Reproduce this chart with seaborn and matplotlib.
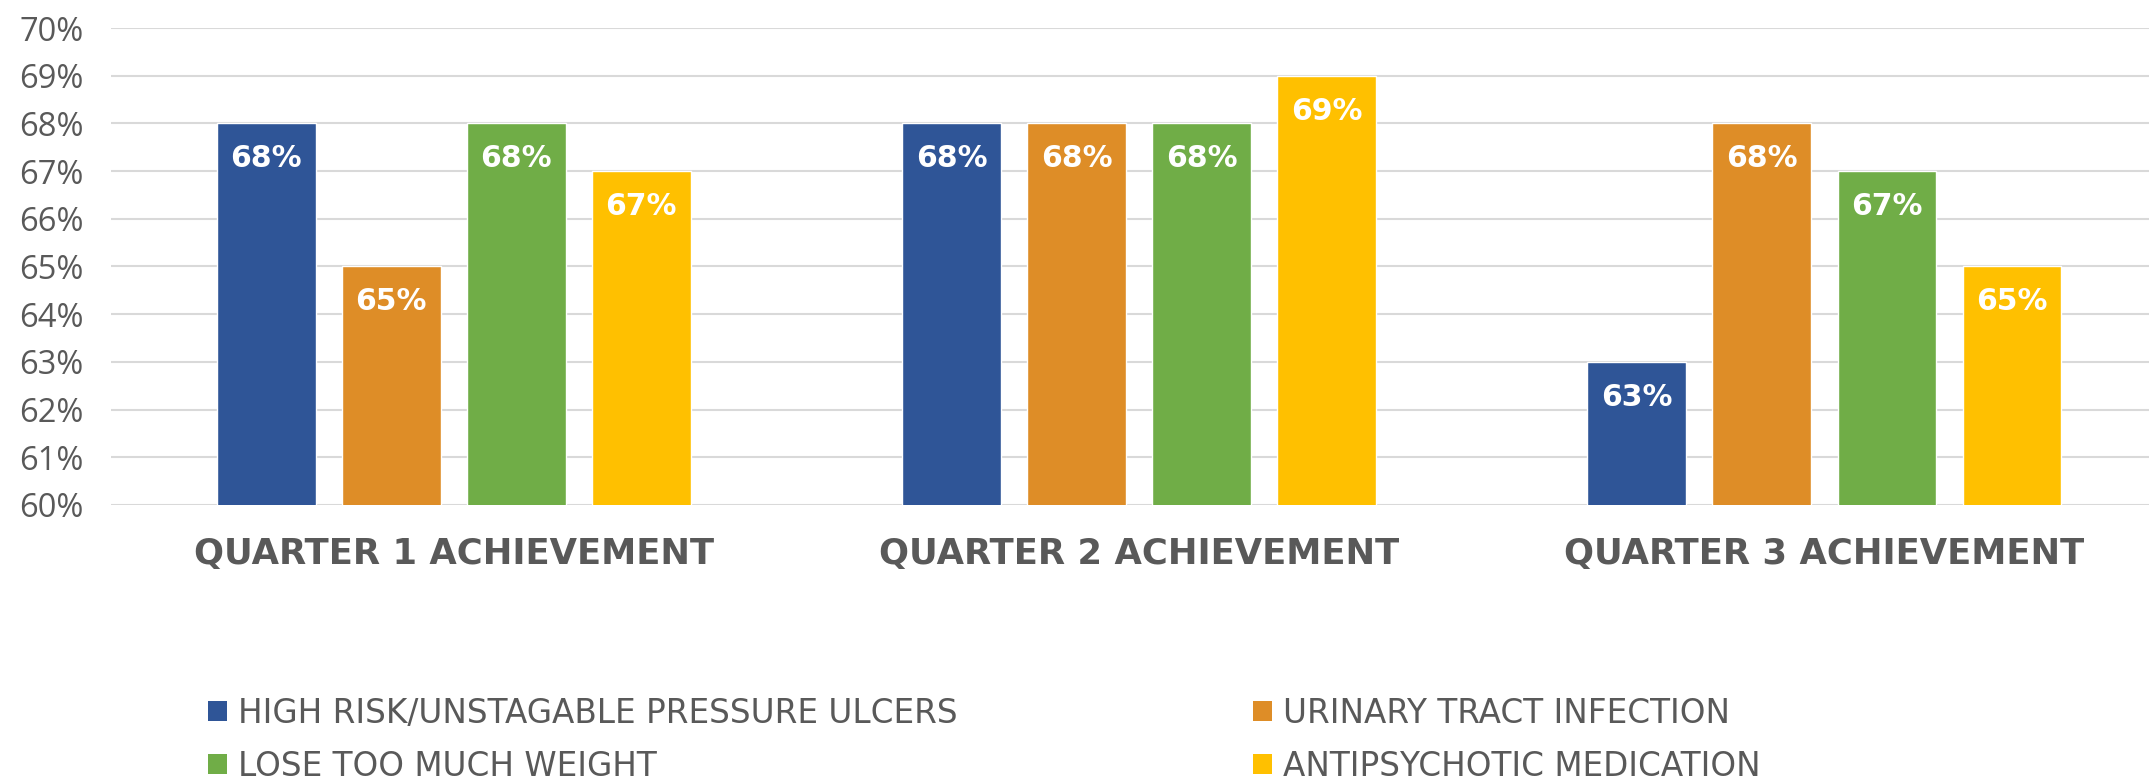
import matplotlib
matplotlib.use("Agg")
import matplotlib.pyplot as plt
from matplotlib.patches import Patch
import seaborn as sns
import pandas as pd

quarters = ["QUARTER 1 ACHIEVEMENT", "QUARTER 2 ACHIEVEMENT", "QUARTER 3 ACHIEVEMENT"]
measures = ["HIGH RISK/UNSTAGABLE PRESSURE ULCERS", "URINARY TRACT INFECTION",
            "LOSE TOO MUCH WEIGHT", "ANTIPSYCHOTIC MEDICATION"]
pressure_ulcers = [68, 68, 63]
urinary_tract = [65, 68, 68]
lose_weight = [68, 68, 67]
antipsychotic = [67, 69, 65]
colors = ["#2F5597", "#DE8D27", "#70AD47", "#FFC000"]
yticks = list(range(60, 71))

series = [pressure_ulcers, urinary_tract, lose_weight, antipsychotic]
rows = []
for m, vals in zip(measures, series):
    for q, v in zip(quarters, vals):
        rows.append({"quarter": q, "measure": m, "value": v})
df = pd.DataFrame(rows)

sns.set_style("white")
plt.rcParams["font.family"] = ["Open Sans", "DejaVu Sans"]
text_color = "#595959"

fig = plt.figure(figsize=(21.49, 7.8), dpi=100)
ax = fig.add_axes([0.0517, 0.3526, 0.9567, 0.6115])

sns.barplot(data=df, x="quarter", y="value", hue="measure", order=quarters,
            hue_order=measures, palette=colors, width=0.73, gap=0.21,
            legend=False, ax=ax, saturation=1, zorder=3)

ax.set_ylim(60, 70)
ax.set_yticks(yticks)
ax.set_yticklabels([f"{t}%" for t in yticks])
ax.set_xlim(-0.5, 2.5)
ax.set_xlabel("")
ax.set_ylabel("")
for s in ax.spines.values():
    s.set_visible(False)
ax.yaxis.grid(True, color="#D9D9D9", linewidth=1.5, zorder=0)
ax.set_axisbelow(True)
ax.tick_params(axis="y", length=0, pad=20, labelsize=23.5, labelcolor=text_color)
ax.tick_params(axis="x", length=0, pad=23, labelsize=25.5, labelcolor=text_color)
for lab in ax.get_xticklabels():
    lab.set_fontweight("bold")
    lab.set_family("DejaVu Sans")

for cont in ax.containers:
    ax.bar_label(cont, fmt="%.0f%%", padding=-36, color="white",
                 fontweight="bold", fontsize=21.5, family="DejaVu Sans")

def mk_legend(idx, x):
    handles = [Patch(facecolor=colors[i], edgecolor="none") for i in idx]
    labels = [measures[i] for i in idx]
    return fig.legend(handles, labels, loc="upper left", bbox_to_anchor=(x, 0.107),
                      frameon=False, labelcolor=text_color,
                      prop={"family": "DejaVu Sans", "size": 23.5},
                      handlelength=0.58, handleheight=0.58, handletextpad=0.33,
                      labelspacing=0.62, borderpad=0, borderaxespad=0)

mk_legend([0, 2], 208 / 2149)
mk_legend([1, 3], 1253 / 2149)

fig.savefig("out.png", dpi=100)
